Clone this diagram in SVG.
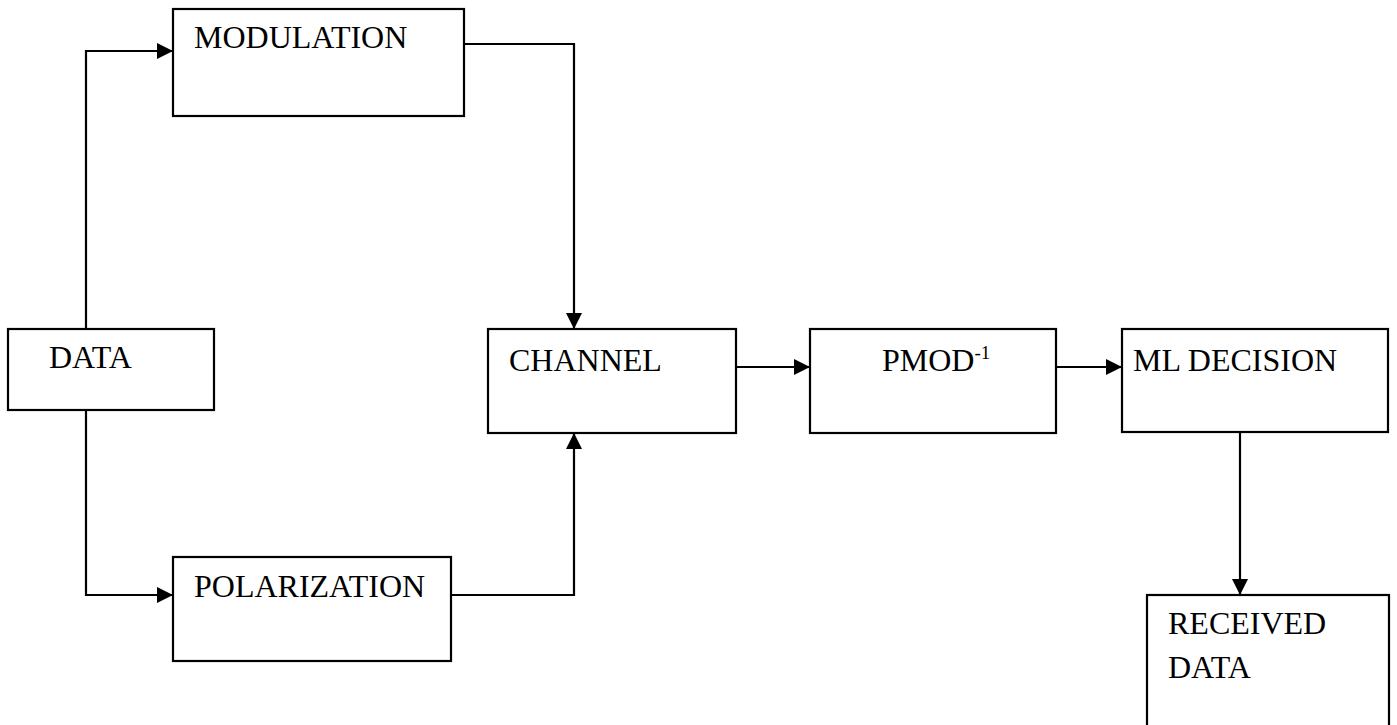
<svg xmlns="http://www.w3.org/2000/svg" width="1397" height="725" viewBox="0 0 1397 725">
<style>
.box{fill:#fff;stroke:#000;stroke-width:2.2}
.lbl{font-family:"Liberation Serif","Times New Roman",serif;font-size:32px;fill:#000}
.sup{font-size:19px}
.conn path{fill:none;stroke:#000;stroke-width:2.2}
</style>
<defs>
<marker id="ah" viewBox="0 0 16 16" refX="16" refY="8" markerWidth="16" markerHeight="16" markerUnits="userSpaceOnUse" orient="auto">
<path d="M0,0 L16,8 L0,16 Z" fill="#000"/>
</marker>
</defs>
<rect width="1397" height="725" fill="#fff"/>
<g class="conn">
<path d="M86,329 V51 H173" marker-end="url(#ah)"/>
<path d="M86,410 V595 H173" marker-end="url(#ah)"/>
<path d="M464,44 H574 V329" marker-end="url(#ah)"/>
<path d="M451,595 H574 V433" marker-end="url(#ah)"/>
<path d="M736,367 H810" marker-end="url(#ah)"/>
<path d="M1056,367 H1122" marker-end="url(#ah)"/>
<path d="M1240,432 V595" marker-end="url(#ah)"/>
</g>
<g id="modulation"><rect class="box" x="173" y="9" width="291" height="107"/><text class="lbl" x="194" y="48">MODULATION</text></g>
<g id="data"><rect class="box" x="8" y="329" width="206" height="81"/><text class="lbl" x="49" y="368">DATA</text></g>
<g id="polarization"><rect class="box" x="173" y="557" width="278" height="104"/><text class="lbl" x="194" y="597">POLARIZATION</text></g>
<g id="channel"><rect class="box" x="488" y="329" width="248" height="104"/><text class="lbl" x="509" y="371">CHANNEL</text></g>
<g id="pmod"><rect class="box" x="810" y="329" width="246" height="104"/><text class="lbl" x="882" y="371">PMOD<tspan class="sup" dy="-12">-1</tspan></text></g>
<g id="ml-decision"><rect class="box" x="1122" y="329" width="266" height="103"/><text class="lbl" x="1133" y="371">ML DECISION</text></g>
<g id="received-data"><rect class="box" x="1147" y="595" width="242" height="140"/><text class="lbl" x="1168" y="634">RECEIVED</text><text class="lbl" x="1168" y="678">DATA</text></g>
</svg>
